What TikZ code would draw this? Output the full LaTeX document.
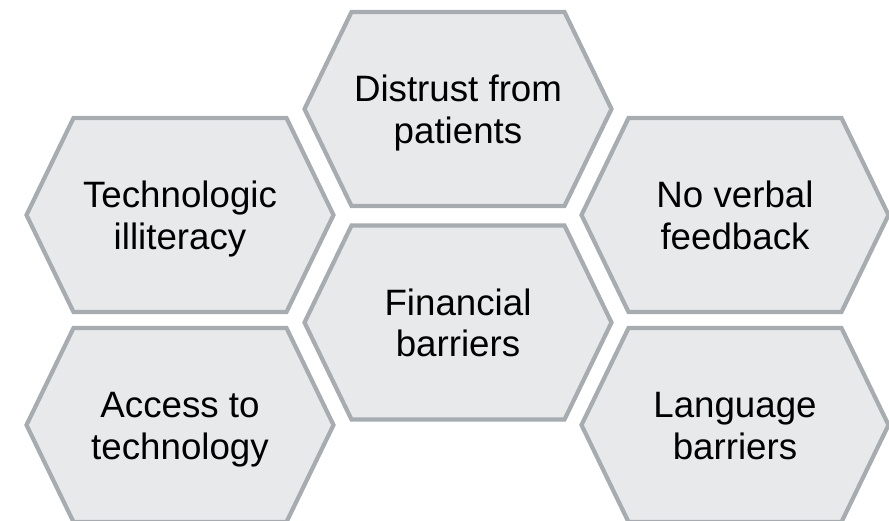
\documentclass[tikz,border=0pt]{standalone}
\usepackage{fontspec}
\setmainfont{Liberation Sans}
\definecolor{hexfill}{HTML}{E8E9EB}
\definecolor{hexdraw}{HTML}{A6ACAF}
\begin{document}
\begin{tikzpicture}[x=1pt,y=-1pt,
  hexline/.style={draw=hexdraw,fill=hexfill,line width=4.2pt,line join=miter},
  hextext/.style={align=center,inner sep=0pt,font=\fontsize{36.7}{41.7}\selectfont,text=black,yshift=-4.3pt}]
\useasboundingbox (0,0) rectangle (889,521);
\newcommand\hexat[1]{\draw[hexline] (#1) ++(-153.5,0) -- ++(47,-97) -- ++(213,0) -- ++(47,97) -- ++(-47,97) -- ++(-213,0) -- cycle;}
\coordinate (cT) at (458,109);
\coordinate (cC) at (458,322.5);
\coordinate (cLT) at (180,215);
\coordinate (cLB) at (180,425);
\coordinate (cRT) at (735,215);
\coordinate (cRB) at (735,425);
\hexat{cT}\hexat{cC}\hexat{cLT}\hexat{cLB}\hexat{cRT}\hexat{cRB}
\newcommand\sT{\rule{0pt}{26pt}}
\newcommand\sB{\rule[-8pt]{0pt}{8pt}}
\node[hextext] (tT) at (cT) {\sT Distrust from\\patients\sB};
\node[hextext] (tC) at (cC) {\sT Financial\\barriers\sB};
\node[hextext] (tLT) at (cLT) {\sT Technologic\\illiteracy\sB};
\node[hextext] (tLB) at (cLB) {\sT Access to\\technology\sB};
\node[hextext] (tRT) at (cRT) {\sT No verbal\\feedback\sB};
\node[hextext] (tRB) at (cRB) {\sT Language\\barriers\sB};
\end{tikzpicture}
\end{document}
